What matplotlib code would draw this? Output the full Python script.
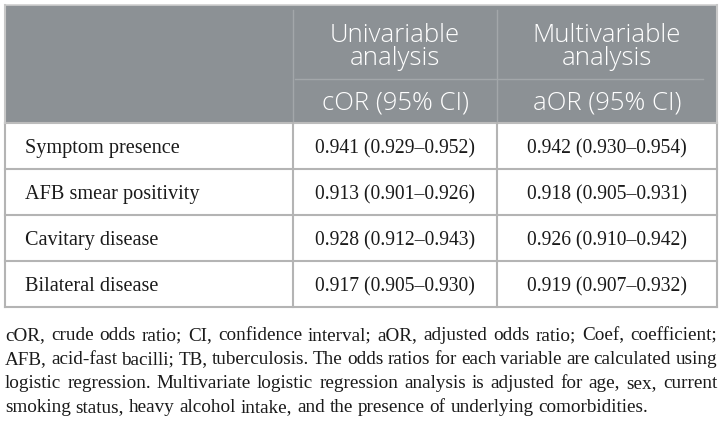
import math
import matplotlib as mpl
mpl.use("Agg")
import matplotlib.pyplot as plt
from matplotlib.patches import Rectangle

# table contents
variables = ["Symptom presence", "AFB smear positivity", "Cavitary disease", "Bilateral disease"]
cor = [0.941, 0.913, 0.928, 0.917]
cor_lo = [0.929, 0.901, 0.912, 0.905]
cor_hi = [0.952, 0.926, 0.943, 0.930]
aor = [0.942, 0.918, 0.926, 0.919]
aor_lo = [0.930, 0.905, 0.910, 0.907]
aor_hi = [0.954, 0.931, 0.942, 0.932]
col_heads = ["Univariable\nanalysis", "Multivariable\nanalysis"]
sub_heads = ["cOR (95% CI)", "aOR (95% CI)"]
foot_lines = [
    "cOR, crude odds ratio; CI, confidence interval; aOR, adjusted odds ratio; Coef, coefficient;",
    "AFB, acid-fast bacilli; TB, tuberculosis. The odds ratios for each variable are calculated using",
    "logistic regression. Multivariate logistic regression analysis is adjusted for age, sex, current",
    "smoking status, heavy alcohol intake, and the presence of underlying comorbidities.",
]

W, H = 723, 424
fig = plt.figure(figsize=(W / 100, H / 100), dpi=100)
ax = fig.add_axes([0, 0, 1, 1])
ax.set_xlim(0, W)
ax.set_ylim(H, 0)
ax.axis("off")

left, right = 5, 717
top, head_bot, sub_line = 5, 123, 79
xs = [left, 293, 497, right]
row_h = 46
n = len(variables)
bottom = head_bot + row_h * n

head_col = "#8c9195"
line_col = "#b4b4b4"
txt_col = "#1a1a1a"
serif = "Liberation Serif"
sans = "Open Sans"

# header block
ax.add_patch(Rectangle((left, top), right - left, head_bot - top, facecolor=head_col,
                       edgecolor="none", zorder=1))
ax.plot([left, right], [top, top], color="#cfcfcf", lw=1.2, zorder=2)
for x in xs[1:3]:
    ax.plot([x, x], [top + 5, head_bot], color="#a3a7aa", lw=1.0, zorder=2)
ax.plot([xs[1] + 2, right - 14], [sub_line, sub_line], color="#a3a7aa", lw=1.0, zorder=2)

# grid of body
for i in range(n + 1):
    y = head_bot + i * row_h
    ax.plot([left, right], [y, y], color=line_col if i else "#bcbcbc", lw=1.5, zorder=3)
for x in xs:
    ax.plot([x, x], [head_bot, bottom], color=line_col, lw=1.5, zorder=3)
ax.plot([left, left], [top, head_bot], color="#c8c8c8", lw=1.5, zorder=3)
ax.plot([right, right], [top, head_bot], color="#c8c8c8", lw=1.5, zorder=3)

centers = [(xs[1] + xs[2]) / 2, (xs[2] + xs[3]) / 2]
for c, h, s in zip(centers, col_heads, sub_heads):
    # va=baseline on two lines anchors the second line
    ax.text(c, 65, h, ha="center", va="baseline", color="white", fontsize=18.5,
            family=sans, weight="light", linespacing=0.88, zorder=4)
    ax.text(c, 110, s, ha="center", va="baseline", color="white", fontsize=18.5,
            family=sans, weight="light", zorder=4)

def fmt(v, lo, hi):
    return f"{v:.3f} ({lo:.3f}\u2013{hi:.3f})"

for i in range(n):
    yb = head_bot + row_h * i + 30
    ax.text(25, yb, variables[i], ha="left", va="baseline", fontsize=14.6, family=serif, color=txt_col)
    ax.text(centers[0], yb, fmt(cor[i], cor_lo[i], cor_hi[i]), ha="center", va="baseline",
            fontsize=14.1, family=serif, color=txt_col)
    ax.text(centers[1], yb, fmt(aor[i], aor_lo[i], aor_hi[i]), ha="center", va="baseline",
            fontsize=14.1, family=serif, color=txt_col)

# justified footnote, one text per word; nudge each word so that
# words with and without descenders sit on the same pixel baseline
renderer = fig.canvas.get_renderer()
foot_y = [340, 364, 388, 412]
fs = 13.8
for k, (line, y) in enumerate(zip(foot_lines, foot_y)):
    words = line.split(" ")
    texts = [ax.text(0, y, w, ha="left", va="baseline", fontsize=fs, family=serif,
                     color=txt_col) for w in words]
    widths = [t.get_window_extent(renderer).width for t in texts]
    if k < len(foot_lines) - 1:
        gap = (right - left - sum(widths)) / (len(words) - 1)
    else:
        gap = 0.25 * fs * 100 / 72
    x = left
    for t, w in zip(texts, widths):
        _, _, d = renderer.get_text_width_height_descent(t.get_text(), t.get_fontproperties(), ismath=False)
        t.set_position((x, y + math.ceil(d) - d))
        x += w + gap

fig.savefig("out.png", dpi=100, facecolor="white")
